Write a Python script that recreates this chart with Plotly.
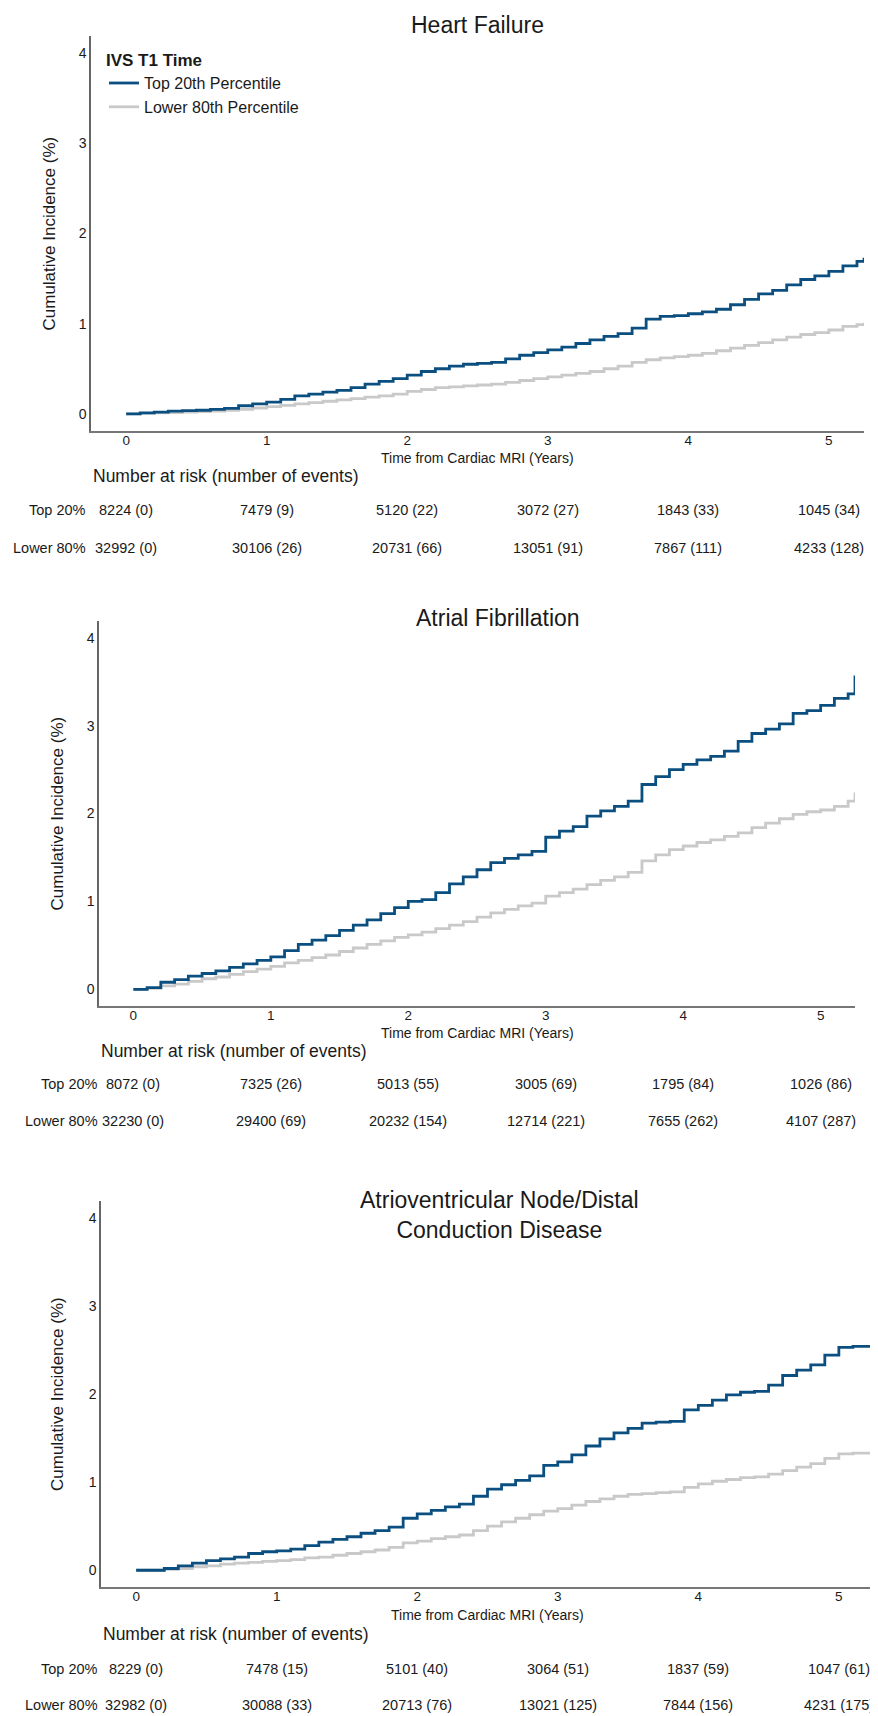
import plotly.graph_objects as go

# ---------------- data ----------------
series_names = ["Top 20th Percentile", "Lower 80th Percentile"]
panel_titles = ["Heart Failure", "Atrial Fibrillation", "Atrioventricular Node/Distal<br>Conduction Disease"]
x_ticks = [0, 1, 2, 3, 4, 5]
y_ticks = [0, 1, 2, 3, 4]
row_labels = ["Top 20%", "Lower 80%"]

t_grid = [0.0, 0.1, 0.2, 0.3, 0.4, 0.5, 0.6, 0.7, 0.8, 0.9, 1.0, 1.1, 1.2, 1.3, 1.4, 1.5, 1.6, 1.7,
          1.8, 1.9, 2.0, 2.1, 2.2, 2.3, 2.4, 2.5, 2.6, 2.7, 2.8, 2.9, 3.0, 3.1, 3.2, 3.3, 3.4, 3.5,
          3.6, 3.7, 3.8, 3.9, 4.0, 4.1, 4.2, 4.3, 4.4, 4.5, 4.6, 4.7, 4.8, 4.9, 5.0, 5.1, 5.2, 5.25]

# Heart Failure
hf_top = [0.00, 0.01, 0.02, 0.03, 0.035, 0.04, 0.05, 0.06, 0.09, 0.11, 0.13, 0.16, 0.20, 0.22, 0.24, 0.26,
          0.29, 0.33, 0.36, 0.39, 0.43, 0.47, 0.50, 0.53, 0.55, 0.56, 0.57, 0.61, 0.65, 0.68, 0.71, 0.74,
          0.78, 0.82, 0.86, 0.89, 0.95, 1.05, 1.08, 1.09, 1.11, 1.13, 1.16, 1.21, 1.27, 1.33, 1.37, 1.43,
          1.49, 1.53, 1.58, 1.64, 1.69, 1.73]
hf_low = [0.00, 0.005, 0.01, 0.015, 0.02, 0.025, 0.03, 0.04, 0.05, 0.065, 0.08, 0.095, 0.11, 0.125, 0.14, 0.155,
          0.17, 0.185, 0.20, 0.22, 0.25, 0.27, 0.29, 0.30, 0.31, 0.32, 0.33, 0.35, 0.37, 0.39, 0.41, 0.43,
          0.45, 0.47, 0.50, 0.53, 0.57, 0.60, 0.62, 0.635, 0.65, 0.67, 0.70, 0.73, 0.76, 0.79, 0.82, 0.85,
          0.88, 0.90, 0.93, 0.97, 0.99, 1.01]

# Atrial Fibrillation
af_top = [0.00, 0.02, 0.08, 0.11, 0.15, 0.18, 0.21, 0.25, 0.29, 0.33, 0.37, 0.44, 0.51, 0.56, 0.61, 0.67,
          0.73, 0.79, 0.86, 0.93, 1.00, 1.02, 1.10, 1.20, 1.28, 1.36, 1.44, 1.49, 1.53, 1.57, 1.73, 1.80,
          1.85, 1.97, 2.03, 2.08, 2.14, 2.33, 2.42, 2.50, 2.56, 2.61, 2.65, 2.71, 2.82, 2.91, 2.96, 3.02,
          3.14, 3.17, 3.23, 3.31, 3.36, 3.57]
af_low = [0.00, 0.01, 0.04, 0.06, 0.09, 0.12, 0.14, 0.17, 0.20, 0.23, 0.26, 0.30, 0.33, 0.36, 0.39, 0.43,
          0.47, 0.51, 0.55, 0.59, 0.62, 0.65, 0.69, 0.73, 0.77, 0.82, 0.87, 0.91, 0.95, 0.98, 1.06, 1.10,
          1.14, 1.19, 1.24, 1.28, 1.33, 1.46, 1.53, 1.59, 1.63, 1.67, 1.70, 1.74, 1.78, 1.84, 1.89, 1.94,
          1.99, 2.02, 2.04, 2.08, 2.14, 2.24]

# AV Node / Distal Conduction Disease
av_top = [0.00, 0.00, 0.02, 0.05, 0.08, 0.11, 0.13, 0.15, 0.19, 0.21, 0.22, 0.24, 0.28, 0.32, 0.35, 0.38,
          0.42, 0.45, 0.49, 0.59, 0.64, 0.68, 0.72, 0.75, 0.84, 0.92, 0.97, 1.02, 1.07, 1.19, 1.23, 1.31,
          1.41, 1.49, 1.56, 1.61, 1.67, 1.68, 1.69, 1.82, 1.87, 1.93, 1.99, 2.02, 2.03, 2.10, 2.21, 2.27,
          2.33, 2.44, 2.53, 2.54, 2.54, 2.59]
av_low = [0.00, 0.00, 0.01, 0.02, 0.04, 0.05, 0.07, 0.08, 0.09, 0.10, 0.11, 0.12, 0.14, 0.15, 0.17, 0.19,
          0.21, 0.23, 0.26, 0.31, 0.33, 0.36, 0.38, 0.40, 0.45, 0.50, 0.55, 0.59, 0.63, 0.67, 0.70, 0.74,
          0.78, 0.81, 0.84, 0.86, 0.87, 0.88, 0.89, 0.94, 0.98, 1.01, 1.03, 1.05, 1.06, 1.09, 1.13, 1.17,
          1.21, 1.27, 1.32, 1.33, 1.33, 1.34]

# number at risk tables
hf_risk_top = ["8224 (0)", "7479 (9)", "5120 (22)", "3072 (27)", "1843 (33)", "1045 (34)"]
hf_risk_low = ["32992 (0)", "30106 (26)", "20731 (66)", "13051 (91)", "7867 (111)", "4233 (128)"]
af_risk_top = ["8072 (0)", "7325 (26)", "5013 (55)", "3005 (69)", "1795 (84)", "1026 (86)"]
af_risk_low = ["32230 (0)", "29400 (69)", "20232 (154)", "12714 (221)", "7655 (262)", "4107 (287)"]
av_risk_top = ["8229 (0)", "7478 (15)", "5101 (40)", "3064 (51)", "1837 (59)", "1047 (61)"]
av_risk_low = ["32982 (0)", "30088 (33)", "20713 (76)", "13021 (125)", "7844 (156)", "4231 (175)"]

# ---------------- layout helpers ----------------
PAGE_OFF = 8                      # default body margin of the html page
W, H = 878 - PAGE_OFF, 1716 - PAGE_OFF
FONT = "Liberation Sans, Arial, Helvetica, sans-serif"
BLUE = "#0b4f80"
GRAY = "#c9c9c9"
TXT = "#1a1a1a"

def px(x):
    return (x - PAGE_OFF) / W

def py(y):
    return 1 - (y - PAGE_OFF) / H

# pixel geometry of each panel (page coordinates): (left, right, top, bottom)
panels = [
    dict(box=(91, 864, 36, 431), top=hf_top, low=hf_low, rt=hf_risk_top, rl=hf_risk_low,
         title_top=10, ytitle_x=49, xtitle_y=458, nar_y=476, row_y=(510, 548), rowlab_x=88, title_dx=0),
    dict(box=(99, 855, 621, 1006), top=af_top, low=af_low, rt=af_risk_top, rl=af_risk_low,
         title_top=603, ytitle_x=57, xtitle_y=1033, nar_y=1051, row_y=(1084, 1121), rowlab_x=100, title_dx=21),
    dict(box=(101, 874, 1201, 1587), top=av_top, low=av_low, rt=av_risk_top, rl=av_risk_low,
         title_top=1185, ytitle_x=57, xtitle_y=1615, nar_y=1634, row_y=(1669, 1705), rowlab_x=100, title_dx=12),
]

fig = go.Figure()
annotations = []
layout_axes = {}

for i, p in enumerate(panels):
    n = "" if i == 0 else str(i + 1)
    xa, ya = "x" + n, "y" + n
    l, r, t, b = p["box"]
    fig.add_trace(go.Scatter(x=t_grid, y=p["low"], mode="lines", line=dict(color=GRAY, width=2.8, shape="hv"),
                             name=series_names[1], xaxis=xa, yaxis=ya, showlegend=(i == 0),
                             legendrank=2))
    fig.add_trace(go.Scatter(x=t_grid, y=p["top"], mode="lines", line=dict(color=BLUE, width=2.8, shape="hv"),
                             name=series_names[0], xaxis=xa, yaxis=ya, showlegend=(i == 0),
                             legendrank=1))
    layout_axes["xaxis" + n] = dict(domain=[px(l), px(r)], range=[-0.25, 5.25], anchor=ya,
                                    tickvals=x_ticks, showgrid=False, zeroline=False, showline=True,
                                    linecolor="#777", linewidth=1.5, ticks="", ticklabelstandoff=-4,
                                    tickfont=dict(size=13.5, color=TXT, family=FONT))
    layout_axes["yaxis" + n] = dict(domain=[py(b), py(t)], range=[-0.19, 4.19], anchor=xa,
                                    tickvals=y_ticks, showgrid=False, zeroline=False, showline=True,
                                    linecolor="#666", linewidth=1.5, ticks="",
                                    tickfont=dict(size=14, color=TXT, family=FONT))
    cx = (l + r) / 2
    # panel title
    annotations.append(dict(text=panel_titles[i], x=px(cx + p["title_dx"]), y=py(p["title_top"]),
                            xref="paper", yref="paper", xanchor="center", yanchor="top", showarrow=False,
                            font=dict(size=23, color=TXT, family=FONT)))
    # y axis title
    annotations.append(dict(text="Cumulative Incidence (%)", x=px(p["ytitle_x"]), y=py((t + b) / 2),
                            xref="paper", yref="paper", xanchor="center", yanchor="middle", textangle=-90,
                            showarrow=False, font=dict(size=17, color=TXT, family=FONT)))
    # x axis title
    annotations.append(dict(text="Time from Cardiac MRI (Years)", x=px(cx), y=py(p["xtitle_y"]),
                            xref="paper", yref="paper", xanchor="center", yanchor="middle",
                            showarrow=False, font=dict(size=14, color=TXT, family=FONT)))
    # number at risk header
    annotations.append(dict(text="Number at risk (number of events)", x=px(l), y=py(p["nar_y"]),
                            xref="paper", yref="paper", xanchor="left", yanchor="middle",
                            showarrow=False, font=dict(size=17.5, color=TXT, family=FONT)))
    # row labels and values
    for k, (lab, vals) in enumerate(zip(row_labels, [p["rt"], p["rl"]])):
        annotations.append(dict(text=lab, x=px(p["rowlab_x"]), y=py(p["row_y"][k]), xref="paper", yref="paper",
                                xanchor="right", yanchor="middle", showarrow=False,
                                font=dict(size=14.5, color=TXT, family=FONT)))
        for tv, v in zip(x_ticks, vals):
            annotations.append(dict(text=v, x=tv, y=py(p["row_y"][k]), xref=xa, yref="paper",
                                    xanchor="center", yanchor="middle", showarrow=False,
                                    font=dict(size=14.5, color=TXT, family=FONT)))

fig.update_layout(
    width=W, height=H, autosize=False,
    margin=dict(l=0, r=0, t=0, b=0),
    paper_bgcolor="white", plot_bgcolor="white",
    font=dict(family=FONT, color=TXT),
    showlegend=True,
    legend=dict(title=dict(text="<b>IVS T1 Time</b>", font=dict(size=17, color=TXT, family=FONT)),
                x=px(104), y=py(44), xanchor="left", yanchor="top",
                font=dict(size=16, color=TXT, family=FONT), bgcolor="rgba(0,0,0,0)",
                traceorder="normal", itemwidth=30, tracegroupgap=0),
    annotations=annotations,
    **layout_axes,
)

fig.write_html("out.html")
